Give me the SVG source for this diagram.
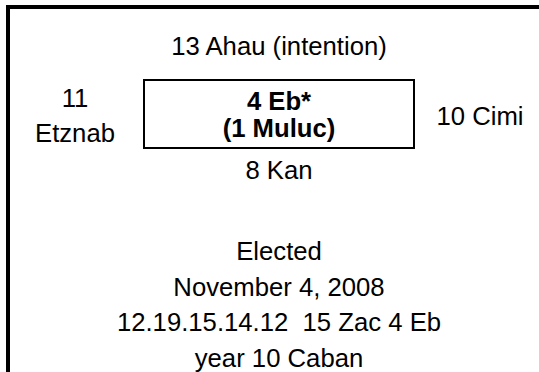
<svg xmlns="http://www.w3.org/2000/svg" width="539" height="372" viewBox="0 0 539 372">
<style>
text{font-family:"Liberation Sans",Arial,sans-serif;font-size:25.7px;fill:#000;text-anchor:middle}
.b{font-weight:bold}
.frame{fill:#000}
.box{fill:none;stroke:#000;stroke-width:2}
</style>
<rect width="539" height="372" fill="#fff"/>
<g id="frame">
<rect class="frame" x="6" y="5" width="533" height="4"/>
<rect class="frame" x="6" y="5" width="4" height="367"/>
</g>
<g id="connectors"></g>
<g id="top"><text x="279" y="55">13 Ahau (intention)</text></g>
<g id="left"><text x="75" y="107">11</text><text x="75" y="142">Etznab</text></g>
<g id="center">
<rect class="box" x="144" y="80" width="270" height="68"/>
<text class="b" x="279" y="109.5">4 Eb*</text>
<text class="b" x="279" y="137">(1 Muluc)</text>
</g>
<g id="right"><text x="480" y="125">10 Cimi</text></g>
<g id="bottom"><text x="279" y="179">8 Kan</text></g>
<g id="info">
<text x="279" y="260">Elected</text>
<text x="279" y="295.5">November 4, 2008</text>
<text x="279" y="331" xml:space="preserve">12.19.15.14.12  15 Zac 4 Eb</text>
<text x="279" y="366.5">year 10 Caban</text>
</g>
</svg>
